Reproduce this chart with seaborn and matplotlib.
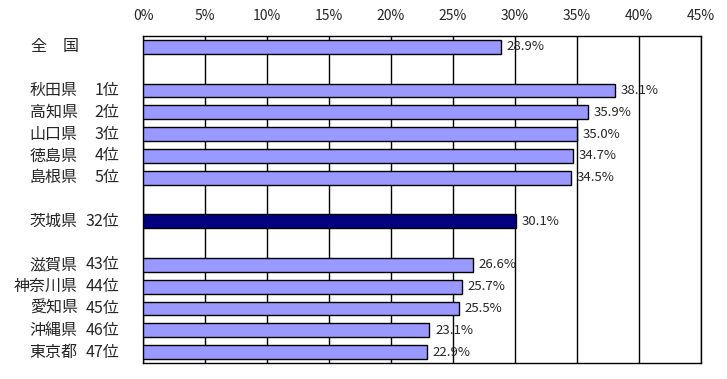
import pandas as pd
import numpy as np
import matplotlib
matplotlib.use("Agg")
import matplotlib.pyplot as plt
import seaborn as sns

# data
prefs = ["全　国", "秋田県", "高知県", "山口県", "徳島県", "島根県", "茨城県",
         "滋賀県", "神奈川県", "愛知県", "沖縄県", "東京都"]
ranks = ["", "1位", "2位", "3位", "4位", "5位", "32位",
         "43位", "44位", "45位", "46位", "47位"]
values = [28.9, 38.1, 35.9, 35.0, 34.7, 34.5, 30.1, 26.6, 25.7, 25.5, 23.1, 22.9]
# row order with empty rows as gaps
order = ["全　国", "_gap1", "秋田県", "高知県", "山口県", "徳島県", "島根県",
         "_gap2", "茨城県", "_gap3", "滋賀県", "神奈川県", "愛知県", "沖縄県", "東京都"]

sns.set_style("white")
plt.rcParams['font.family'] = ['Noto Sans CJK JP', 'DejaVu Sans']

df = pd.DataFrame({"pref": prefs, "rank": ranks, "value": values})
colors = {p: ("#000080" if p == "茨城県" else "#9999FF") for p in prefs}

fig = plt.figure(figsize=(7.27, 3.79), dpi=100)
ax = fig.add_axes([143 / 727, 16 / 379, 558 / 727, 327 / 379])

sns.barplot(data=df, x="value", y="pref", order=order, hue="pref",
            palette=colors, saturation=1, legend=False, width=0.64,
            edgecolor="black", linewidth=1, ax=ax, zorder=3)

for c in ax.containers:
    ax.bar_label(c, fmt="%.1f%%", padding=4, fontsize=9.5, zorder=4)

ax.set_xlim(0, 45)
ax.set_xticks(np.arange(0, 50, 5))
ax.set_xticklabels([f"{t}%" for t in range(0, 50, 5)], fontsize=10)
ax.xaxis.tick_top()
ax.tick_params(axis="x", length=0, pad=9)
ax.grid(axis="x", color="black", linewidth=1, zorder=0)
ax.set_axisbelow(True)
ax.set_yticks([])
ax.set_xlabel("")
ax.set_ylabel("")
for s in ax.spines.values():
    s.set_color("black")
    s.set_linewidth(1)

# left-hand labels: prefecture name and rank
trans = ax.get_yaxis_transform()
for p, r in zip(prefs, ranks):
    y = order.index(p)
    if r:
        ax.text(-0.117, y, p, transform=trans, ha="right", va="center", fontsize=11.5)
        ax.text(-0.042, y, r, transform=trans, ha="right", va="center", fontsize=11.5)
    else:
        ax.text(-0.158, y, p, transform=trans, ha="center", va="center", fontsize=11.5)

fig.savefig("out.png", dpi=100)
